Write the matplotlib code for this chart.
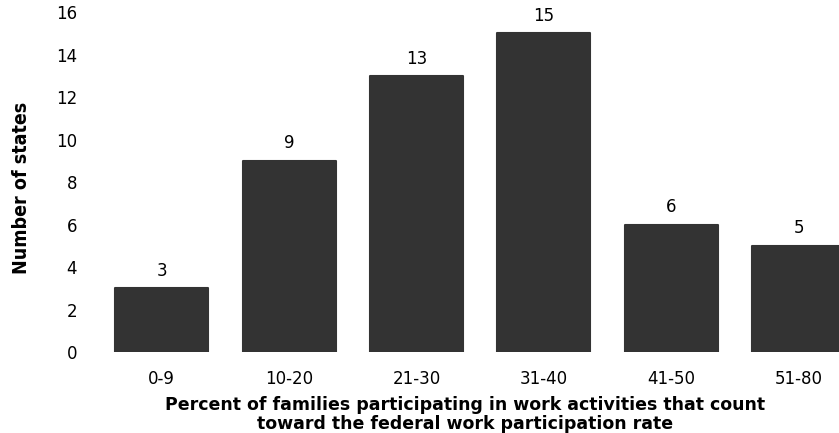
import matplotlib
matplotlib.use("Agg")
import matplotlib.pyplot as plt
from matplotlib import font_manager

categories = ["0-9", "10-20", "21-30", "31-40", "41-50", "51-80"]
num_states = [3, 9, 13, 15, 6, 5]
y_ticks = [0, 2, 4, 6, 8, 10, 12, 14, 16]

BAR_COLOR = "#333333"
TEXT_FONT = "DejaVu Sans"


def ylabel_font():
    # the y label in the reference is a narrow bold face
    names = {f.name: f for f in font_manager.fontManager.ttflist}
    if "Liberation Sans Narrow" in names:
        return {"family": "Liberation Sans Narrow", "fontsize": 17}
    for f in font_manager.fontManager.ttflist:
        if f.name == "DejaVu Sans" and "ondensed" in str(f.stretch) + f.fname:
            return {"family": "DejaVu Sans", "fontstretch": "condensed", "fontsize": 14}
    return {"family": "Liberation Sans", "fontsize": 14}


fig = plt.figure(figsize=(8.39, 4.33), dpi=100)
ax = fig.add_axes([0.12, 0.187, 0.88, 0.785])

x = list(range(len(categories)))
ax.bar(x, num_states, width=0.73, color=BAR_COLOR,
       edgecolor=BAR_COLOR, linewidth=1.5, joinstyle="round")

for xi, val in zip(x, num_states):
    ax.annotate(str(val), (xi, val), xytext=(0, 6), textcoords="offset points",
                ha="center", va="bottom", fontsize=12, family=TEXT_FONT)

ax.set_xlim(-0.48, 5.318)
ax.set_ylim(0, 16)
ax.set_yticks(y_ticks)
ax.set_xticks(x)
ax.set_xticklabels(categories, fontsize=12, family=TEXT_FONT)
ax.set_yticklabels([str(t) for t in y_ticks], fontsize=12, family=TEXT_FONT)
ax.tick_params(axis="both", length=0)
ax.tick_params(axis="x", pad=13)
ax.tick_params(axis="y", pad=17)

for spine in ax.spines.values():
    spine.set_visible(False)

ax.set_xlabel("Percent of families participating in work activities that count\n"
              "toward the federal work participation rate",
              fontsize=12.5, fontweight="bold", family=TEXT_FONT, linespacing=1.05)
ax.xaxis.set_label_coords(0.493, -0.13, transform=ax.transAxes)
ax.xaxis.label.set_va("top")

ax.set_ylabel("Number of states", fontweight="bold", **ylabel_font())
ax.yaxis.set_label_coords(-0.094, 0.484)

fig.savefig("out.png", dpi=100)
